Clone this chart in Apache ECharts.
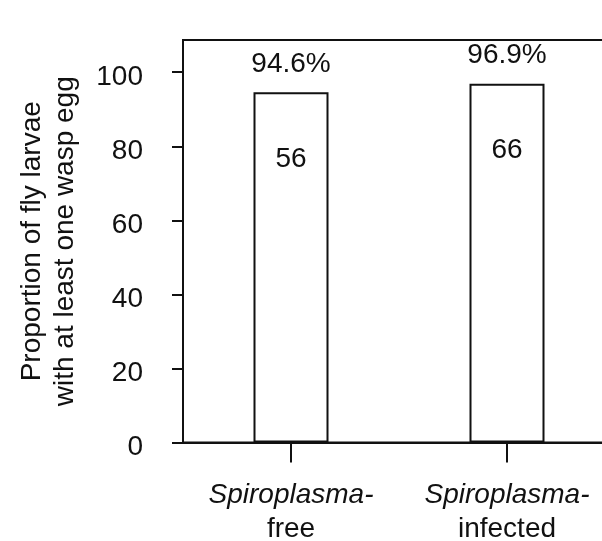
<!DOCTYPE html>
<html>
<head>
<meta charset="utf-8">
<script src="https://cdn.jsdelivr.net/npm/echarts@6/dist/echarts.min.js"></script>
<style>html,body{margin:0;padding:0;background:#fff;}#c{width:602px;height:541px;}</style>
</head>
<body>
<div id="c"></div>
<script>
const genusLine = ['Spiroplasma-', 'Spiroplasma-'];
const statusLine = ['free', 'infected'];
const categories = ['Spiroplasma-free', 'Spiroplasma-infected'];
const percentValues = [94.6, 96.9];
const sampleSizes = [56, 66];
const yTicks = [0, 20, 40, 60, 80, 100];

const FONT = "'Liberation Sans', Arial, Helvetica, sans-serif";
const INK = '#111';
const LW = 2;

const chart = echarts.init(document.getElementById('c'), null, {renderer: 'canvas'});
chart.setOption({
  animation: false,
  backgroundColor: '#fff',
  grid: {
    left: 183, top: 40, width: 432, bottom: 98.5,
    outerBoundsMode: 'none',
    containLabel: false,
    show: true, borderColor: INK, borderWidth: LW, backgroundColor: 'transparent'
  },
  xAxis: {
    type: 'category',
    data: categories,
    axisLine: {show: true, lineStyle: {color: INK, width: LW}},
    axisTick: {show: true, alignWithLabel: true, length: 20, lineStyle: {color: INK, width: LW}},
    axisLabel: {
      margin: 36,
      interval: 0,
      formatter: function (v, i) { return '{i|' + genusLine[i] + '}\n{n|' + statusLine[i] + '}'; },
      rich: {
        i: {fontFamily: FONT, fontSize: 28, fontStyle: 'italic', color: INK, lineHeight: 34},
        n: {fontFamily: FONT, fontSize: 28, color: INK, lineHeight: 34}
      }
    },
    splitLine: {show: false}
  },
  yAxis: {
    type: 'value',
    min: 0, max: 108.7, interval: 20,
    name: 'Proportion of fly larvae\nwith at least one wasp egg',
    nameLocation: 'middle',
    nameRotate: 90,
    nameGap: 101,
    nameTextStyle: {fontFamily: FONT, fontSize: 28, color: INK, lineHeight: 33},
    axisLine: {show: true, lineStyle: {color: INK, width: LW}},
    axisTick: {show: true, length: 11, customValues: yTicks, lineStyle: {color: INK, width: LW}},
    axisLabel: {
      margin: 40,
      customValues: yTicks,
      formatter: function (v) { return '{t|' + v + '}'; },
      rich: {
        t: {fontFamily: FONT, fontSize: 28, color: INK, padding: [10, 0, 0, 0]}
      }
    },
    splitLine: {show: false}
  },
  series: [
    {
      type: 'bar',
      data: percentValues,
      barWidth: 75,
      itemStyle: {color: '#fff', borderColor: INK, borderWidth: LW},
      label: {
        show: true, position: 'top', distance: 14,
        fontFamily: FONT, fontSize: 28, color: INK,
        formatter: function (p) { return p.value.toFixed(1) + '%'; }
      },
      z: 2
    },
    {
      type: 'bar',
      data: percentValues,
      barWidth: 75,
      barGap: '-100%',
      silent: true,
      itemStyle: {color: 'rgba(0,0,0,0)', borderWidth: 0},
      label: {
        show: true, position: 'insideTop', distance: 53,
        fontFamily: FONT, fontSize: 28, color: INK,
        formatter: function (p) { return String(sampleSizes[p.dataIndex]); }
      },
      z: 3
    }
  ]
});
</script>
</body>
</html>
